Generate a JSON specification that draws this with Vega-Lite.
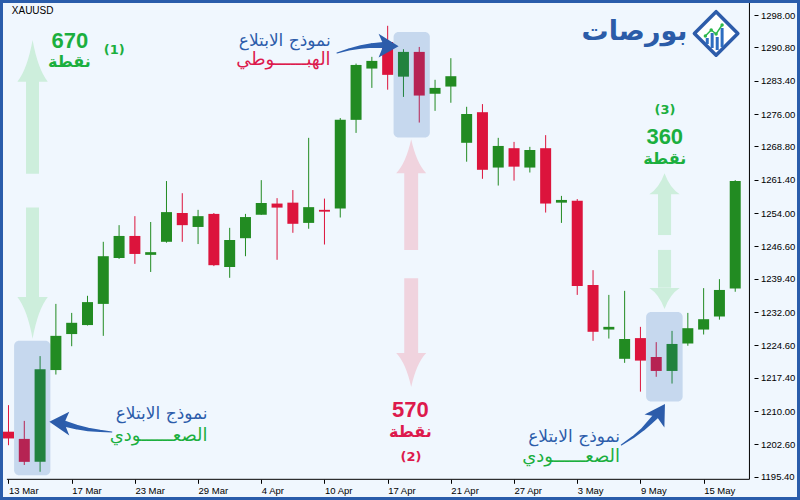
{
  "$schema": "https://vega.github.io/schema/vega-lite/v6.json",
  "width": 794,
  "height": 494,
  "autosize": {"type": "none"},
  "padding": 3,
  "background": "#2A5DAB",
  "config": {
    "view": {"fill": "#F0F7FE", "stroke": null},
    "font": "Liberation Sans",
    "axis": {"labelOverlap": false, "labelFlush": false, "grid": false, "domain": false, "labelFontSize": 9.5, "labelColor": "#000000", "tickColor": "#000000", "tickSize": 4}
  },
  "datasets": {
    "candles": [
      {"i":0,"d":"2017-03-13","o":1205.4,"h":1211.3,"l":1202.4,"c":1203.9},
      {"i":1,"d":"2017-03-14","o":1203.8,"h":1207.8,"l":1198.0,"c":1198.7},
      {"i":2,"d":"2017-03-15","o":1198.7,"h":1222.2,"l":1196.5,"c":1219.3},
      {"i":3,"d":"2017-03-16","o":1219.1,"h":1233.8,"l":1218.1,"c":1226.7},
      {"i":4,"d":"2017-03-17","o":1227.1,"h":1231.8,"l":1224.4,"c":1229.6},
      {"i":5,"d":"2017-03-20","o":1229.1,"h":1235.6,"l":1229.0,"c":1234.2},
      {"i":6,"d":"2017-03-21","o":1233.8,"h":1247.6,"l":1226.7,"c":1244.4},
      {"i":7,"d":"2017-03-22","o":1244.0,"h":1251.3,"l":1243.8,"c":1248.9},
      {"i":8,"d":"2017-03-23","o":1248.9,"h":1253.3,"l":1242.7,"c":1244.9},
      {"i":9,"d":"2017-03-24","o":1244.7,"h":1252.0,"l":1240.9,"c":1245.3},
      {"i":10,"d":"2017-03-27","o":1247.6,"h":1261.1,"l":1247.4,"c":1254.2},
      {"i":11,"d":"2017-03-28","o":1254.0,"h":1258.4,"l":1247.6,"c":1251.3},
      {"i":12,"d":"2017-03-29","o":1250.9,"h":1254.7,"l":1247.1,"c":1253.3},
      {"i":13,"d":"2017-03-30","o":1253.8,"h":1254.0,"l":1242.2,"c":1242.4},
      {"i":14,"d":"2017-03-31","o":1242.0,"h":1250.7,"l":1239.6,"c":1248.0},
      {"i":15,"d":"2017-04-03","o":1248.4,"h":1253.8,"l":1244.4,"c":1253.1},
      {"i":16,"d":"2017-04-04","o":1253.6,"h":1261.3,"l":1253.6,"c":1256.2},
      {"i":17,"d":"2017-04-05","o":1256.1,"h":1257.3,"l":1243.6,"c":1255.2},
      {"i":18,"d":"2017-04-06","o":1256.3,"h":1259.1,"l":1249.6,"c":1251.6},
      {"i":19,"d":"2017-04-07","o":1251.8,"h":1270.7,"l":1250.5,"c":1255.3},
      {"i":20,"d":"2017-04-10","o":1254.7,"h":1257.2,"l":1247.0,"c":1254.3},
      {"i":21,"d":"2017-04-11","o":1255.0,"h":1275.1,"l":1253.0,"c":1274.7},
      {"i":22,"d":"2017-04-12","o":1274.7,"h":1287.2,"l":1271.8,"c":1286.9},
      {"i":23,"d":"2017-04-13","o":1286.1,"h":1288.7,"l":1281.8,"c":1287.8},
      {"i":24,"d":"2017-04-17","o":1292.0,"h":1295.6,"l":1281.4,"c":1284.7},
      {"i":25,"d":"2017-04-18","o":1284.3,"h":1290.4,"l":1279.8,"c":1289.8},
      {"i":26,"d":"2017-04-19","o":1289.8,"h":1290.9,"l":1274.1,"c":1280.1},
      {"i":27,"d":"2017-04-20","o":1280.5,"h":1283.6,"l":1276.7,"c":1281.8},
      {"i":28,"d":"2017-04-21","o":1282.1,"h":1288.4,"l":1278.5,"c":1284.4},
      {"i":29,"d":"2017-04-24","o":1269.6,"h":1277.6,"l":1265.4,"c":1276.0},
      {"i":30,"d":"2017-04-25","o":1276.4,"h":1278.2,"l":1261.6,"c":1263.6},
      {"i":31,"d":"2017-04-26","o":1264.1,"h":1270.7,"l":1260.1,"c":1268.9},
      {"i":32,"d":"2017-04-27","o":1268.4,"h":1269.8,"l":1261.2,"c":1264.3},
      {"i":33,"d":"2017-04-28","o":1264.1,"h":1268.7,"l":1263.0,"c":1268.0},
      {"i":34,"d":"2017-05-01","o":1268.4,"h":1271.3,"l":1254.1,"c":1256.1},
      {"i":35,"d":"2017-05-02","o":1256.3,"h":1257.8,"l":1251.8,"c":1256.9},
      {"i":36,"d":"2017-05-03","o":1256.7,"h":1257.1,"l":1235.8,"c":1237.8},
      {"i":37,"d":"2017-05-04","o":1238.0,"h":1241.3,"l":1225.6,"c":1227.6},
      {"i":38,"d":"2017-05-05","o":1228.1,"h":1235.8,"l":1226.1,"c":1228.7},
      {"i":39,"d":"2017-05-08","o":1221.6,"h":1236.7,"l":1220.7,"c":1226.0},
      {"i":40,"d":"2017-05-09","o":1226.2,"h":1228.7,"l":1214.3,"c":1221.2},
      {"i":41,"d":"2017-05-10","o":1222.0,"h":1225.3,"l":1217.6,"c":1218.9},
      {"i":42,"d":"2017-05-11","o":1218.9,"h":1227.8,"l":1216.1,"c":1224.9},
      {"i":43,"d":"2017-05-12","o":1225.0,"h":1231.8,"l":1224.5,"c":1228.4},
      {"i":44,"d":"2017-05-15","o":1228.1,"h":1237.3,"l":1227.0,"c":1230.4},
      {"i":45,"d":"2017-05-16","o":1231.0,"h":1239.3,"l":1230.3,"c":1236.9},
      {"i":46,"d":"2017-05-17","o":1237.2,"h":1261.3,"l":1236.5,"c":1261.1}
    ],
    "boxes": [
      {"i1":0.356,"i2":2.65,"p1":1195.7,"p2":1225.6},
      {"i1":24.375,"i2":26.67,"p1":1270.8,"p2":1294.2},
      {"i1":40.36,"i2":42.67,"p1":1212.1,"p2":1232.0}
    ],
    "shafts": [
      {"tone":"u","i1":1.11,"i2":1.93,"p1":1262.7,"p2":1283.6},
      {"tone":"u","i1":1.11,"i2":1.93,"p1":1235.0,"p2":1255.2},
      {"tone":"d","i1":25.05,"i2":25.93,"p1":1245.8,"p2":1263.0},
      {"tone":"d","i1":25.05,"i2":25.93,"p1":1222.6,"p2":1239.5},
      {"tone":"u","i1":41.11,"i2":41.94,"p1":1249.1,"p2":1258.7},
      {"tone":"u","i1":41.11,"i2":41.94,"p1":1237.4,"p2":1245.8}
    ],
    "heads": [
      {"k":"a1u","tone":"u","i":1.525,"p":1287.8},
      {"k":"a1d","tone":"u","i":1.525,"p":1230.7},
      {"k":"a2u","tone":"d","i":25.49,"p":1266.6},
      {"k":"a2d","tone":"d","i":25.49,"p":1219.1},
      {"k":"a3u","tone":"u","i":41.525,"p":1260.5},
      {"k":"a3d","tone":"u","i":41.525,"p":1235.0},
      {"k":"cl","tone":"b","i":3.294,"p":1207.33},
      {"k":"ct","tone":"b","i":23.98,"p":1291.33},
      {"k":"cb","tone":"b","i":41.16,"p":1209.47}
    ],
    "curves": [
      {"g":"L","k":1,"i":6.544,"p":1205.33},
      {"g":"L","k":2,"i":5.794,"p":1205.56},
      {"g":"L","k":3,"i":5.044,"p":1205.89},
      {"g":"L","k":4,"i":4.294,"p":1206.44},
      {"g":"L","k":5,"i":3.544,"p":1207.22},
      {"g":"T","k":1,"i":20.79,"p":1289.56},
      {"g":"T","k":2,"i":21.54,"p":1290.33},
      {"g":"T","k":3,"i":22.29,"p":1290.89},
      {"g":"T","k":4,"i":22.98,"p":1291.22},
      {"g":"T","k":5,"i":23.73,"p":1291.33},
      {"g":"B","k":1,"i":38.79,"p":1202.44},
      {"g":"B","k":2,"i":39.54,"p":1204.22},
      {"g":"B","k":3,"i":40.17,"p":1206.0},
      {"g":"B","k":4,"i":40.61,"p":1207.56},
      {"g":"B","k":5,"i":40.98,"p":1208.89}
    ]
  },
  "layer": [
    {
      "data": {"name": "candles"},
      "mark": {"type": "rule", "strokeWidth": 1, "clip": true},
      "encoding": {
        "x": {"field": "i", "type": "quantitative", "scale": {"domain": [-0.03125, 49.59375], "nice": false, "zero": false},
          "axis": {"orient": "bottom", "offset": -17.7, "values": [0,4,8,12,16,20,24,28,32,36,40,44], "tickCount": 40,
            "labelExpr": "['13 Mar','17 Mar','23 Mar','29 Mar','4 Apr','10 Apr','17 Apr','21 Apr','27 Apr','3 May','9 May','15 May'][round(datum.value/4)]",
            "domain": false, "grid": false, "ticks": true, "tickSize": 4, "tickColor": "#000000", "labelColor": "#000000",
            "labelFontSize": 9.5, "labelAlign": "left", "labelPadding": 2, "labelOverlap": false, "labelFlush": false, "title": null}},
        "y": {"field": "l", "type": "quantitative", "scale": {"domain": [1190.89, 1300.667], "nice": false, "zero": false},
          "axis": {"orient": "right", "offset": -43, "values": [1195.4,1202.6,1210,1217.4,1224.6,1232,1239.4,1246.6,1254,1261.4,1268.8,1276,1283.4,1290.8,1298], "tickCount": 40,
            "format": ".2f", "domain": false, "grid": false, "ticks": true, "tickSize": 4, "tickColor": "#000000", "labelColor": "#000000",
            "labelFontSize": 9.5, "labelPadding": 2.5, "labelOverlap": false, "labelFlush": false, "title": null}},
        "y2": {"field": "h"},
        "color": {"condition": {"test": "datum.c >= datum.o", "value": "#228B22"}, "value": "#DC143C"}
      }
    },
    {
      "data": {"name": "shafts"},
      "mark": {"type": "rect"},
      "encoding": {
        "x": {"field": "i1", "type": "quantitative"},
        "x2": {"field": "i2"},
        "y": {"field": "p1", "type": "quantitative"},
        "y2": {"field": "p2"},
        "color": {"field": "tone", "type": "nominal", "scale": {"domain": ["g","r","b","u","d"], "range": ["#1BAF3E","#DD1A4D","#2C5CAA","#CDEEDC","#F0D3DE"]}, "legend": null}
      }
    },
    {
      "data": {"name": "candles"},
      "mark": {"type": "bar", "width": 11, "clip": true},
      "encoding": {
        "x": {"field": "i", "type": "quantitative"},
        "y": {"field": "o", "type": "quantitative"},
        "y2": {"field": "c"},
        "color": {"condition": {"test": "datum.c >= datum.o", "value": "#228B22"}, "value": "#DC143C"}
      }
    },
    {
      "data": {"name": "boxes"},
      "mark": {"type": "rect", "color": "#1D61AE", "opacity": 0.2, "cornerRadius": 5},
      "encoding": {
        "x": {"field": "i1", "type": "quantitative"},
        "x2": {"field": "i2"},
        "y": {"field": "p1", "type": "quantitative"},
        "y2": {"field": "p2"}
      }
    },
    {
      "data": {"name": "curves"},
      "mark": {"type": "trail", "color": "#2C5FAF"},
      "encoding": {
        "x": {"field": "i", "type": "quantitative"},
        "y": {"field": "p", "type": "quantitative"},
        "detail": {"field": "g"},
        "order": {"field": "k"},
        "size": {"field": "k", "type": "quantitative", "scale": {"domain": [1, 5], "range": [1, 6]}, "legend": null}
      }
    },
    {
      "data": {"name": "heads"},
      "mark": {"type": "point", "filled": true, "opacity": 1, "size": 2500, "strokeWidth": 0},
      "encoding": {
        "x": {"field": "i", "type": "quantitative"},
        "y": {"field": "p", "type": "quantitative"},
        "shape": {"field": "k", "type": "nominal", "legend": null, "scale": {
          "domain": ["a1u","a1d","a2u","a2d","a3u","a3d","cl","ct","cb"],
          "range": [
            "M0,-0.834 Q0.213,0.334 0.608,0.834 L-0.608,0.834 Q-0.213,0.334 0,-0.834 Z",
            "M0,0.834 Q0.213,-0.334 0.608,-0.834 L-0.608,-0.834 Q-0.213,-0.334 0,0.834 Z",
            "M0,-0.68 Q0.21,0.272 0.6,0.68 L-0.6,0.68 Q-0.21,0.272 0,-0.68 Z",
            "M0,0.68 Q0.21,-0.272 0.6,-0.68 L-0.6,-0.68 Q-0.21,-0.272 0,0.68 Z",
            "M0,-0.42 Q0.213,0.168 0.608,0.42 L-0.608,0.42 Q-0.213,0.168 0,-0.42 Z",
            "M0,0.42 Q0.213,-0.168 0.608,-0.42 L-0.608,-0.42 Q-0.213,-0.168 0,0.42 Z",
            "M-0.45,-0.05 L0.35,-0.45 L0.15,0 L0.35,0.5 Z",
            "M0.45,0.05 L-0.35,-0.45 L-0.15,0 L-0.35,0.5 Z",
            "M0.248,-0.376 L-0.568,0.045 L-0.083,0.125 L0.225,0.567 Z"
          ]}},
        "color": {"field": "tone", "type": "nominal", "scale": {"domain": ["g","r","b","u","d"], "range": ["#1BAF3E","#DD1A4D","#2C5CAA","#CDEEDC","#F0D3DE"]}, "legend": null}
      }
    },
    {
      "data": {"values": [
        {"i":3.89,"p":1292.2,"t":"670","tone":"g"},
        {"i":41.54,"p":1270.9,"t":"360","tone":"g"},
        {"i":25.44,"p":1210.2,"t":"570","tone":"r"}
      ]},
      "mark": {"type": "text", "font": "Liberation Sans", "fontWeight": "bold", "fontSize": 22, "align": "center", "baseline": "middle"},
      "encoding": {
        "x": {"field": "i", "type": "quantitative"},
        "y": {"field": "p", "type": "quantitative"},
        "text": {"field": "t"},
        "color": {"field": "tone", "type": "nominal", "scale": {"domain": ["g","r","b","u","d"], "range": ["#1BAF3E","#DD1A4D","#2C5CAA","#CDEEDC","#F0D3DE"]}, "legend": null}
      }
    },
    {
      "data": {"values": [
        {"i":3.86,"p":1287.45,"t":"نقطة","tone":"g"},
        {"i":41.54,"p":1266.0,"t":"نقطة","tone":"g"},
        {"i":25.44,"p":1205.3,"t":"نقطة","tone":"r"}
      ]},
      "mark": {"type": "text", "font": "DejaVu Sans", "fontWeight": "bold", "fontSize": 16, "align": "center", "baseline": "middle"},
      "encoding": {
        "x": {"field": "i", "type": "quantitative"},
        "y": {"field": "p", "type": "quantitative"},
        "text": {"field": "t"},
        "color": {"field": "tone", "type": "nominal", "scale": {"domain": ["g","r","b","u","d"], "range": ["#1BAF3E","#DD1A4D","#2C5CAA","#CDEEDC","#F0D3DE"]}, "legend": null}
      }
    },
    {
      "data": {"values": [
        {"i":6.7,"p":1290.2,"t":"(1)","tone":"g"},
        {"i":25.48,"p":1199.8,"t":"(2)","tone":"r"},
        {"i":41.56,"p":1276.9,"t":"(3)","tone":"g"}
      ]},
      "mark": {"type": "text", "font": "DejaVu Sans", "fontWeight": "bold", "fontSize": 13, "align": "center", "baseline": "middle"},
      "encoding": {
        "x": {"field": "i", "type": "quantitative"},
        "y": {"field": "p", "type": "quantitative"},
        "text": {"field": "t"},
        "color": {"field": "tone", "type": "nominal", "scale": {"domain": ["g","r","b","u","d"], "range": ["#1BAF3E","#DD1A4D","#2C5CAA","#CDEEDC","#F0D3DE"]}, "legend": null}
      }
    },
    {
      "data": {"values": [
        {"i":12.6,"p":1209.3,"t":"نموذج الابتلاع","tone":"b"},
        {"i":20.39,"p":1292.2,"t":"نموذج الابتلاع","tone":"b"},
        {"i":38.71,"p":1204.3,"t":"نموذج الابتلاع","tone":"b"}
      ]},
      "mark": {"type": "text", "font": "DejaVu Sans", "fontSize": 17, "align": "right", "baseline": "middle"},
      "encoding": {
        "x": {"field": "i", "type": "quantitative"},
        "y": {"field": "p", "type": "quantitative"},
        "text": {"field": "t"},
        "color": {"field": "tone", "type": "nominal", "scale": {"domain": ["g","r","b","u","d"], "range": ["#1BAF3E","#DD1A4D","#2C5CAA","#CDEEDC","#F0D3DE"]}, "legend": null}
      }
    },
    {
      "data": {"values": [
        {"i":12.6,"p":1204.4,"t":"الصعــــــودي","tone":"g"},
        {"i":20.39,"p":1287.9,"t":"الهبــــــوطي","tone":"r"},
        {"i":38.71,"p":1199.8,"t":"الصعــــــودي","tone":"g"}
      ]},
      "mark": {"type": "text", "font": "DejaVu Sans", "fontSize": 18, "align": "right", "baseline": "middle"},
      "encoding": {
        "x": {"field": "i", "type": "quantitative"},
        "y": {"field": "p", "type": "quantitative"},
        "text": {"field": "t"},
        "color": {"field": "tone", "type": "nominal", "scale": {"domain": ["g","r","b","u","d"], "range": ["#1BAF3E","#DD1A4D","#2C5CAA","#CDEEDC","#F0D3DE"]}, "legend": null}
      }
    },
    {
      "data": {"values": [{"i":0.21,"p":1299.0,"t":"XAUUSD"}]},
      "mark": {"type": "text", "font": "Liberation Sans", "fontSize": 10, "align": "left", "baseline": "middle", "color": "#000000"},
      "encoding": {
        "x": {"field": "i", "type": "quantitative"},
        "y": {"field": "p", "type": "quantitative"},
        "text": {"field": "t"}
      }
    },
    {
      "data": {"values": [{"i":42.98,"p":1294.2,"t":"بورصات"}]},
      "mark": {"type": "text", "font": "DejaVu Sans", "fontWeight": "bold", "fontSize": 27, "align": "right", "baseline": "middle", "color": "#2B5CA8"},
      "encoding": {
        "x": {"field": "i", "type": "quantitative"},
        "y": {"field": "p", "type": "quantitative"},
        "text": {"field": "t"}
      }
    },
    {
      "data": {"values": [{"i":44.79,"p":1293.9}]},
      "mark": {"type": "point", "shape": "M0,-1 L1,0 L0,1 L-1,0 Z", "size": 1890, "filled": false, "fill": "#FFFFFF", "fillOpacity": 1, "stroke": "#2D5CAA", "strokeWidth": 3.5, "strokeJoin": "round", "opacity": 1},
      "encoding": {
        "x": {"field": "i", "type": "quantitative"},
        "y": {"field": "p", "type": "quantitative"}
      }
    },
    {
      "data": {"values": [
        {"i":44.23,"p1":1291.56,"p2":1292.89},
        {"i":44.54,"p1":1290.67,"p2":1294.0},
        {"i":44.86,"p1":1290.22,"p2":1293.11},
        {"i":45.17,"p1":1290.89,"p2":1295.11}
      ]},
      "mark": {"type": "rule", "strokeWidth": 3, "color": "#2E6DC0"},
      "encoding": {
        "x": {"field": "i", "type": "quantitative"},
        "y": {"field": "p1", "type": "quantitative"},
        "y2": {"field": "p2"}
      }
    },
    {
      "data": {"values": [
        {"i":44.11,"p":1293.33},
        {"i":44.48,"p":1294.67},
        {"i":44.79,"p":1293.78},
        {"i":45.17,"p":1295.78}
      ]},
      "mark": {"type": "line", "color": "#2DB84C", "strokeWidth": 1.5, "point": {"filled": true, "size": 12, "color": "#2DB84C"}},
      "encoding": {
        "x": {"field": "i", "type": "quantitative"},
        "y": {"field": "p", "type": "quantitative"}
      }
    },
    {
      "data": {"values": [{}]},
      "mark": {"type": "rule", "color": "#000000", "strokeWidth": 1},
      "encoding": {
        "x": {"datum": -0.1, "type": "quantitative"},
        "x2": {"datum": 46.9},
        "y": {"datum": 1194.82, "type": "quantitative"}
      }
    },
    {
      "data": {"values": [{}]},
      "mark": {"type": "rule", "color": "#000000", "strokeWidth": 1},
      "encoding": {
        "x": {"datum": 46.9, "type": "quantitative"},
        "y": {"datum": 1194.82, "type": "quantitative"},
        "y2": {"datum": 1300.667}
      }
    }
  ]
}
